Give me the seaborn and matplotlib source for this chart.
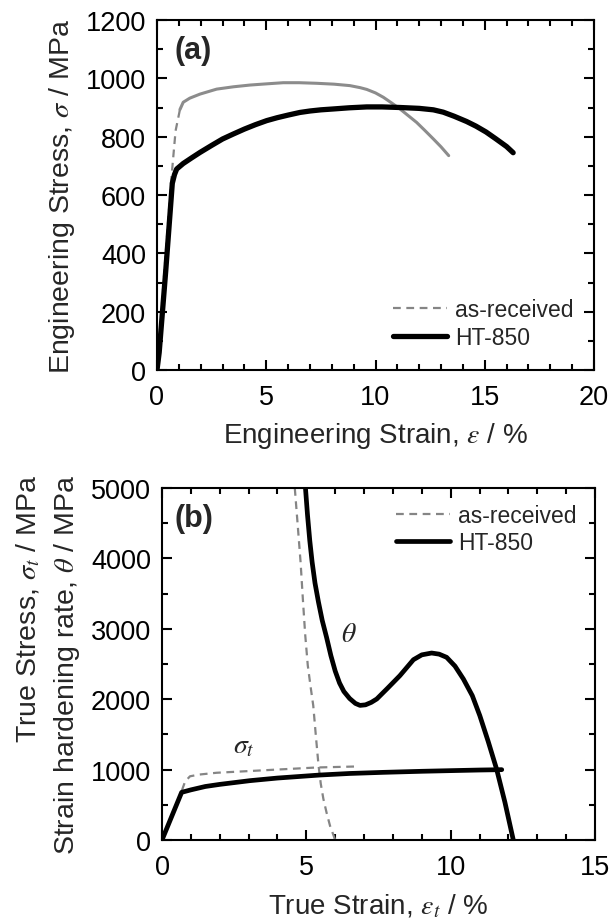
import numpy as np
import pandas as pd
import matplotlib
matplotlib.use("Agg")
import matplotlib.pyplot as plt
from matplotlib.ticker import MultipleLocator
import seaborn as sns

# ---------------- data: panel (a) engineering curves ----------------
ar_el_strain = [0, 0.3, 0.65, 0.85, 1.05]
ar_el_stress = [0, 300, 650, 820, 893]
ar_pl_strain = [1.05, 1.2, 1.5, 1.97, 2.73, 3.5, 4.26, 5.0, 5.78, 6.5, 7.31, 8.1, 8.83, 9.3,
                9.6, 10.0, 10.36, 10.75, 11.12, 11.5, 11.88, 12.25, 12.65, 13.0, 13.35]
ar_pl_stress = [893, 918, 932, 946, 963, 971, 977, 981, 985, 985, 983, 980, 975, 968,
                962, 950, 935, 915, 895, 872, 849, 822, 792, 765, 735]
ht_eng_strain = [0, 0.1, 0.4, 0.7, 0.8, 0.9, 1.2, 1.6, 1.97, 2.5, 3.0, 3.49, 4.0, 4.5, 5.02,
                 5.5, 6.0, 6.54, 7.0, 7.5, 8.07, 8.8, 9.6, 10.3, 11.12, 12.0, 12.65, 13.1,
                 13.6, 14.17, 14.6, 15.06, 15.5, 16.0, 16.3]
ht_eng_stress = [0, 60, 340, 640, 670, 689, 708, 728, 746, 770, 792, 809, 826, 841, 855,
                 865, 874, 883, 888, 892, 895, 899, 902, 902, 900, 897, 892, 884,
                 870, 852, 836, 816, 793, 766, 745]

# ---------------- data: panel (b) true stress & hardening rate ----------------
ar_true_strain = [0, 0.35, 0.65, 0.8, 0.97, 1.3, 1.89, 3.05, 4.2, 5.36, 6.8]
ar_true_stress = [0, 350, 660, 830, 905, 930, 955, 980, 1005, 1030, 1045]
ht_true_strain = [0, 0.68, 1.0, 1.5, 2.0, 3.05, 4.0, 5.47, 6.5, 7.67, 9.0, 9.98, 11.0, 11.77]
ht_true_stress = [0, 677, 712, 760, 790, 843, 880, 923, 945, 961, 976, 985, 994, 999]
ar_theta_strain = [4.6, 4.7, 4.8, 4.88, 4.96, 5.05, 5.15, 5.24, 5.33, 5.42, 5.5, 5.59, 5.7,
                   5.82, 6.0]
ar_theta = [5000, 4480, 3950, 3420, 2920, 2480, 2170, 1908, 1480, 1070, 800, 585, 390, 203, 0]
ht_theta_strain = [4.97, 5.04, 5.12, 5.2, 5.3, 5.42, 5.55, 5.7, 5.85, 6.0, 6.15, 6.3, 6.5,
                   6.7, 6.86, 7.05, 7.25, 7.44, 7.8, 8.24, 8.71, 9.0, 9.34, 9.6, 9.86,
                   10.15, 10.44, 10.75, 11.01, 11.3, 11.59, 11.88, 12.17]
ht_theta = [5000, 4620, 4250, 3950, 3650, 3380, 3120, 2880, 2620, 2400, 2230, 2110, 2010,
            1940, 1912, 1920, 1955, 2003, 2150, 2334, 2561, 2630, 2656, 2640, 2595,
            2470, 2287, 2050, 1766, 1400, 1009, 535, 0]

legend_labels = ["as-received", "HT-850"]

# ---------------- style ----------------
sns.set_style("ticks")
plt.rcParams["font.family"] = ["Liberation Sans", "DejaVu Sans"]
plt.rcParams["mathtext.fontset"] = "stix"
plt.rcParams["axes.linewidth"] = 1.5

GREY = "#858585"
fig = plt.figure(figsize=(6.12, 9.2), dpi=100)
ax_a = fig.add_axes([157 / 612, 1 - 371 / 920, 437 / 612, 350 / 920])
ax_b = fig.add_axes([162 / 612, 1 - 841 / 920, 433 / 612, 352 / 920])

dash = (0, (3.5, 2.5))

# ---------------- panel (a) ----------------
sns.lineplot(x=ar_el_strain, y=ar_el_stress, ax=ax_a, sort=False, color=GREY, lw=1.6,
             linestyle=dash, label=legend_labels[0])
sns.lineplot(x=ar_pl_strain, y=ar_pl_stress, ax=ax_a, sort=False, color="#8c8c8c", lw=2.2)
sns.lineplot(x=ht_eng_strain, y=ht_eng_stress, ax=ax_a, sort=False, color="black", lw=3.8,
             label=legend_labels[1])

# ---------------- panel (b) ----------------
sns.lineplot(x=ar_true_strain, y=ar_true_stress, ax=ax_b, sort=False, color=GREY, lw=1.6,
             linestyle=dash, label=legend_labels[0])
sns.lineplot(x=ar_theta_strain, y=ar_theta, ax=ax_b, sort=False, color=GREY, lw=1.6,
             linestyle=dash)
sns.lineplot(x=ht_true_strain, y=ht_true_stress, ax=ax_b, sort=False, color="black", lw=3.4,
             label=legend_labels[1])
sns.lineplot(x=ht_theta_strain, y=ht_theta, ax=ax_b, sort=False, color="black", lw=3.4)

ax_b.text(6.48, 2930, r"$\theta$", fontsize=20, ha="center", va="center")
ax_b.text(2.82, 1340, r"$\sigma_t$", fontsize=20, ha="center", va="center")

# ---------------- axes formatting ----------------
def fmt(ax, xmax, xmaj, ymax, ymaj, ymin_step):
    ax.set_xlim(0, xmax)
    ax.set_ylim(0, ymax)
    ax.xaxis.set_major_locator(MultipleLocator(xmaj))
    ax.xaxis.set_minor_locator(MultipleLocator(1))
    ax.yaxis.set_major_locator(MultipleLocator(ymaj))
    ax.yaxis.set_minor_locator(MultipleLocator(ymin_step))
    ax.tick_params(which="both", direction="in", top=True, right=True, width=1.5,
                   labelsize=19.5, colors="black")
    ax.tick_params(axis="x", which="both", pad=10)
    ax.tick_params(axis="y", which="both", pad=8)
    ax.tick_params(which="major", length=7)
    ax.tick_params(which="minor", length=4)
    for s in ax.spines.values():
        s.set_visible(True)
        s.set_color("black")
        s.set_linewidth(1.5)

fmt(ax_a, 20, 5, 1200, 200, 100)
fmt(ax_b, 15, 5, 5000, 1000, 500)

ax_a.set_xlabel(r"Engineering Strain, $\varepsilon$ / %", fontsize=20, labelpad=7)
ax_a.set_ylabel(r"Engineering Stress, $\sigma$ / MPa", fontsize=20.5, labelpad=6)
ax_b.set_xlabel(r"True Strain, $\varepsilon_t$ / %", fontsize=20, labelpad=9)
ax_b.set_ylabel("True Stress, $\\sigma_t$ / MPa\nStrain hardening rate, $\\theta$ / MPa",
                fontsize=20.5, labelpad=6, linespacing=1.45, multialignment="right")

ax_a.text(0.04, 0.915, "(a)", transform=ax_a.transAxes, fontsize=22, fontweight="bold",
          ha="left", va="center")
ax_b.text(0.028, 0.915, "(b)", transform=ax_b.transAxes, fontsize=22, fontweight="bold",
          ha="left", va="center")

for ax, anchor in ((ax_a, (0.54, 0.205)), (ax_b, (0.54, 0.955))):
    handles, labels = ax.get_legend_handles_labels()
    ax.legend(handles, labels, loc="upper left", bbox_to_anchor=anchor, frameon=False,
              fontsize=16.5, handlelength=2.35, handletextpad=0.35, labelspacing=0.2,
              borderpad=0, borderaxespad=0)

fig.savefig("out.png", dpi=100)
